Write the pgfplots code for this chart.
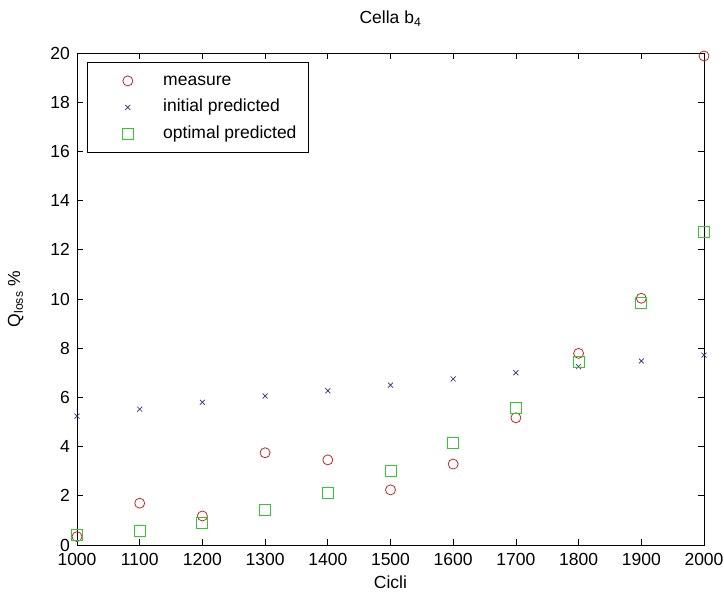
\documentclass[border=0pt]{standalone}
\usepackage{fontspec}
\setmainfont{Liberation Sans}
\usepackage{pgfplots}
\pgfplotsset{compat=1.18}
\definecolor{mred}{RGB}{190,40,40}
\definecolor{mblue}{RGB}{45,45,130}
\definecolor{mgreen}{RGB}{50,200,50}
\begin{document}
\fontsize{17.5}{21}\selectfont
\begin{tikzpicture}
\useasboundingbox (-77pt,-49pt) rectangle (647pt,545pt);
\begin{axis}[
  scale only axis, width=627pt, height=492pt,
  at={(0,0)}, anchor=south west,
  xmin=1000, xmax=2000, ymin=0, ymax=20,
  xtick={1000,1100,...,2000}, ytick={0,2,...,20},
  tick align=inside, major tick length=6pt,
  /pgf/number format/assume math mode=true,
  /pgf/number format/set thousands separator={},
  axis line style={line width=0.8pt},
  every tick/.style={line width=0.8pt, black},
  yticklabel style={inner sep=0pt, xshift=-7pt},
  xticklabel style={inner sep=0pt, yshift=-8pt},
  title={Cella b\textsubscript{4}},
  title style={at={(axis description cs:0.5,1)}, anchor=base, yshift=23pt, inner sep=0pt},
  xlabel={Cicli},
  xlabel style={at={(axis description cs:0.5,0)}, anchor=base, yshift=-44pt, inner sep=0pt},
  ylabel={Q\textsubscript{loss} \%},
  ylabel style={at={(axis description cs:-0.0909,0.5)}, anchor=base, inner sep=0pt},
  clip=false,
  legend cell align=left,
  legend style={at={(axis description cs:0.016,0.9817)}, anchor=north west,
    draw=black, line width=0.8pt, inner xsep=6pt, inner ysep=10pt, row sep=9.5pt,
    nodes={inner xsep=6pt, inner ysep=0pt, text height=13pt, text depth=4pt},
    /tikz/every even column/.style={column sep=0pt}},
  legend image code/.code={\path (-34pt,0) (29pt,0);
    \draw[mark repeat=1,mark phase=1,#1] plot coordinates {(0pt,0pt)};},
]
\addplot[only marks, mark=o, mark size=5pt, color=mred, line width=0.8pt] coordinates {
(1000,0.34) (1100,1.70) (1200,1.18) (1300,3.75) (1400,3.46) (1500,2.24)
(1600,3.29) (1700,5.17) (1800,7.79) (1900,10.03) (2000,19.88)};
\addlegendentry{measure}
\addplot[only marks, mark=x, mark size=3.5pt, color=mblue, line width=0.7pt] coordinates {
(1000,5.24) (1100,5.52) (1200,5.80) (1300,6.06) (1400,6.27) (1500,6.50)
(1600,6.75) (1700,7.00) (1800,7.25) (1900,7.48) (2000,7.72)};
\addlegendentry{initial predicted}
\addplot[only marks, mark=square, mark size=5.5pt, color=mgreen, line width=0.8pt] coordinates {
(1000,0.40) (1100,0.58) (1200,0.91) (1300,1.42) (1400,2.13) (1500,3.02)
(1600,4.13) (1700,5.58) (1800,7.45) (1900,9.85) (2000,12.74)};
\addlegendentry{optimal predicted}
\end{axis}
\end{tikzpicture}
\end{document}
